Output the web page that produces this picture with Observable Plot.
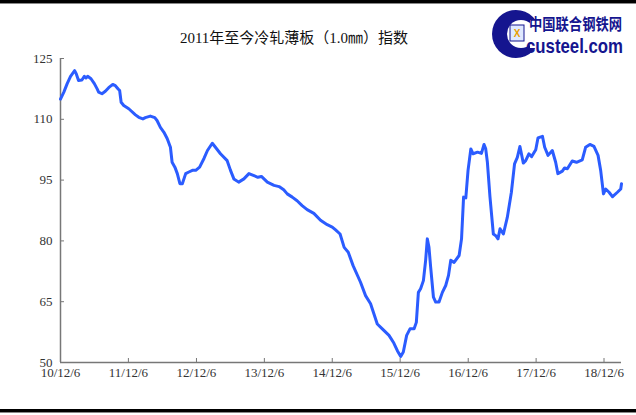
<!DOCTYPE html>
<html>
<head>
<meta charset="utf-8">
<script src="https://cdn.jsdelivr.net/npm/d3@7"></script>
<script src="https://cdn.jsdelivr.net/npm/@observablehq/plot@0.6"></script>
<style>
  html, body { margin: 0; padding: 0; background: #fff; }
  #wrap { position: relative; width: 636px; height: 415px; overflow: hidden; background: #fff; }
  #chart { position: absolute; left: 0; top: 0; }
  #title { position: absolute; left: 0; width: 588px; top: 26px; text-align: center;
           font-family: 'Liberation Serif', 'Noto Sans CJK SC', serif; font-size: 15px; color: #111; white-space: nowrap; }
  .bar { position: absolute; left: 0; width: 636px; background: #000; }
  #logo { position: absolute; left: 488px; top: 6px; }
</style>
</head>
<body>
<div id="wrap">
  <div id="chart"></div>
  <div id="title">2011年至今冷轧薄板（1.0㎜）指数</div>
  <svg id="logo" width="146" height="56" viewBox="0 0 146 56">
    <circle cx="28" cy="28" r="24" fill="#15158f"/>
    <circle cx="33" cy="28" r="14" fill="#fff"/>
    <rect x="42" y="14" width="16" height="28" fill="#fff"/>
    <rect x="22" y="19" width="14" height="16" fill="#dfe9ff" stroke="#15158f" stroke-width="1"/>
    <text x="29" y="31" font-size="10" font-family="Liberation Sans" fill="#e8a000" text-anchor="middle" font-weight="bold">X</text>
    <text x="41" y="20" transform="scale(1,1.2)" font-family="'Noto Sans CJK SC'" font-weight="bold" font-size="13" fill="#15158f" textLength="93" lengthAdjust="spacingAndGlyphs">中国联合钢铁网</text>
    <text x="38" y="36.7" transform="scale(1,1.28)" font-family="'Liberation Sans', Arial" font-weight="bold" font-size="16" fill="#15158f" textLength="97" lengthAdjust="spacingAndGlyphs">custeel.com</text>
  </svg>
  <div class="bar" style="top:0;height:3px"></div>
  <div class="bar" style="top:3px;height:1px;background:#888"></div>
  <div class="bar" style="top:409px;height:3px"></div>
  <div class="bar" style="top:412px;height:1px;background:#888"></div>
</div>
<script>
const dates = [
"2010-12-06","2010-12-24","2011-01-11","2011-01-29","2011-02-20","2011-03-01","2011-03-13","2011-03-31","2011-04-13","2011-04-22",
"2011-05-01","2011-05-19","2011-06-06","2011-06-21","2011-06-29","2011-07-17","2011-08-04","2011-08-22","2011-09-13","2011-09-27",
"2011-10-12","2011-10-20","2011-10-28","2011-11-11","2011-12-08","2012-01-13","2012-01-31","2012-02-22","2012-03-06","2012-04-02",
"2012-04-26","2012-05-08","2012-05-26","2012-06-14","2012-07-02","2012-07-19","2012-07-28","2012-08-12","2012-08-25","2012-09-08",
"2012-09-21","2012-10-09","2012-10-26","2012-11-14","2012-12-02","2012-12-23","2013-01-16","2013-02-03","2013-03-01","2013-03-18",
"2013-04-14","2013-05-20","2013-06-07","2013-06-25","2013-07-21","2013-08-18","2013-09-14","2013-10-11","2013-11-01","2013-11-20",
"2013-12-22","2014-01-27","2014-02-23","2014-03-20","2014-04-08","2014-05-05","2014-05-31","2014-06-27","2014-07-24","2014-08-29",
"2014-10-04","2014-11-09","2014-12-06","2014-12-24","2015-01-17","2015-02-08","2015-03-02","2015-03-28","2015-05-07","2015-06-03",
"2015-06-30","2015-08-05","2015-09-01","2015-10-07","2015-11-02","2015-11-21","2015-12-09","2015-12-23","2016-01-10","2016-01-28",
"2016-02-19","2016-03-02","2016-03-13","2016-03-25","2016-04-09","2016-04-21","2016-04-30","2016-05-09","2016-05-18","2016-06-02",
"2016-06-14","2016-07-02","2016-07-20","2016-08-07","2016-08-22","2016-09-03","2016-09-21","2016-10-18","2016-10-31","2016-11-11",
"2016-11-23","2016-12-05","2016-12-20","2017-01-01","2017-01-25","2017-02-15","2017-03-01","2017-03-10","2017-03-19","2017-04-02",
"2017-04-20","2017-05-03","2017-05-15","2017-05-26","2017-06-13","2017-07-04","2017-07-26","2017-08-12","2017-08-27","2017-09-10",
"2017-09-28","2017-10-11","2017-10-28","2017-11-12","2017-12-04","2017-12-16","2018-01-09","2018-01-21","2018-02-08","2018-03-03",
"2018-03-21","2018-04-02","2018-04-26","2018-05-08","2018-05-23","2018-06-18","2018-07-11","2018-08-11","2018-08-29","2018-09-21",
"2018-10-13","2018-11-04","2018-11-18","2018-12-03","2018-12-15","2019-01-02","2019-01-21","2019-02-16","2019-03-06","2019-03-10"
];
const values = [
115.0,116.7,118.8,120.6,122.0,121.2,119.6,119.7,120.6,120.2,
120.6,120.0,118.8,117.5,116.7,116.3,116.9,117.8,118.6,118.3,
117.5,117.1,114.2,113.4,112.6,111.1,110.5,110.1,110.4,110.8,
110.4,109.7,108.0,106.8,105.2,103.1,99.4,98.2,96.6,94.1,
94.1,96.6,97.0,97.4,97.4,98.2,100.4,102.3,104.1,103.1,
101.5,99.8,97.4,95.3,94.5,95.3,96.6,96.1,95.7,95.9,
94.5,93.7,93.4,92.6,91.6,90.8,89.9,88.7,87.7,86.8,
85.1,84.0,83.4,82.7,81.7,78.4,77.2,73.9,69.8,66.5,
64.5,59.5,58.3,56.7,54.8,52.9,51.5,52.6,56.7,58.3,
58.3,59.9,67.3,68.2,70.2,75.2,80.5,78.4,73.5,66.1,
64.9,64.9,67.3,69.0,71.5,75.2,74.7,76.4,80.5,90.8,
90.6,97.4,102.7,101.5,101.9,101.6,103.8,102.7,99.4,90.8,
81.7,81.3,80.5,83.0,81.7,85.8,92.0,99.0,100.6,103.3,
99.2,99.8,101.5,100.8,102.5,105.4,105.8,103.1,101.1,102.3,
99.4,96.6,97.2,98.0,97.8,99.7,99.4,100.0,103.1,103.8,
103.3,101.1,97.4,91.6,92.8,92.0,90.9,92.0,92.8,94.1
];
const yTicks = [50, 65, 80, 95, 110, 125];
const xTickDates = ["2010-12-06","2011-12-06","2012-12-06","2013-12-06","2014-12-06","2015-12-06","2016-12-06","2017-12-06","2018-12-06"];
const xDomain = ["2010-12-06", "2019-03-10"];

const data = dates.map((d, i) => ({date: new Date(d), value: values[i]}));
const xTicks = xTickDates.map(d => new Date(d));

const W = 636, H = 415, mL = 60, mR = 15, mT = 58, mB = 53;
const plotW = W - mL - mR, plotH = H - mT - mB;

const chart = Plot.plot({
  width: W, height: H,
  marginLeft: mL, marginRight: mR, marginTop: mT, marginBottom: mB,
  style: {fontFamily: "'Liberation Serif', serif", fontSize: "13px", color: "#333", background: "transparent"},
  x: {type: "utc", domain: xDomain.map(d => new Date(d))},
  y: {domain: [50, 125]},
  marks: [
    Plot.axisY({ticks: yTicks, tickSize: 0, tickPadding: 8, label: null}),
    Plot.axisX({ticks: xTicks, tickSize: 0, tickPadding: 5, tickFormat: "%y/%m/%-d", label: null}),
    Plot.tickY(yTicks, {y: d => d, stroke: "#777", strokeWidth: 1, insetRight: plotW - 4}),
    Plot.tickX(xTicks, {x: d => d, stroke: "#777", strokeWidth: 1, insetTop: plotH - 4}),
    Plot.ruleX([xDomain[0]].map(d => new Date(d)), {stroke: "#777", strokeWidth: 1.5}),
    Plot.ruleY([50], {stroke: "#777", strokeWidth: 1.5}),
    Plot.line(data, {x: "date", y: "value", stroke: "#2b5cff", strokeWidth: 3, strokeLinejoin: "round", strokeLinecap: "round"})
  ]
});
document.getElementById("chart").appendChild(chart);
</script>
</body>
</html>
